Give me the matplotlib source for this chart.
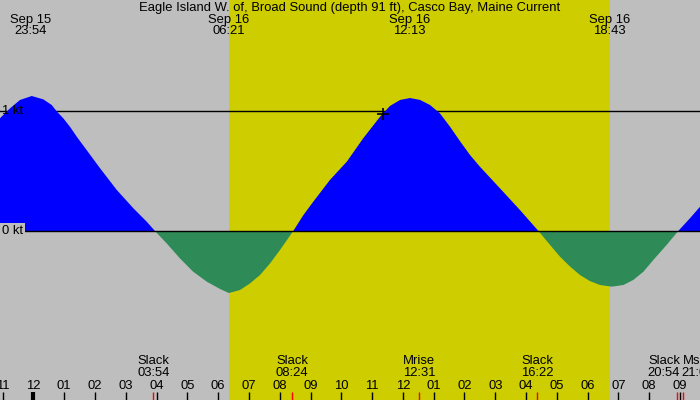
import matplotlib
matplotlib.use("Agg")
import matplotlib.pyplot as plt
import numpy as np

plt.rcParams["font.family"] = ["Liberation Sans", "DejaVu Sans"]

TITLE = "Eagle Island W. of, Broad Sound (depth 91 ft), Casco Bay, Maine Current"

# hours from midnight Sep 16 (negative = Sep 15), current speed in knots
hours = [-1.081, -0.756, -0.432, -0.05, 0.325, 0.597, 0.76, 0.974, 1.19, 1.41, 1.73,
         2.17, 2.71, 3.25, 3.68, 3.95, 4.33, 4.76, 5.19, 5.63, 6.06, 6.35, 6.71, 7.04,
         7.36, 7.69, 8.01, 8.44, 8.77, 9.09, 9.63, 10.18, 10.71, 11.26, 11.58, 11.91,
         12.23, 12.56, 12.88, 13.20, 13.53, 13.85, 14.18, 14.50, 15.15, 15.80, 16.40,
         16.78, 17.10, 17.43, 17.75, 18.07, 18.40, 18.78, 19.16, 19.48, 19.81, 20.13,
         20.56, 20.94, 21.32, 21.65]
speed = [0.940, 1.022, 1.092, 1.125, 1.097, 1.05, 0.997, 0.939, 0.869, 0.786, 0.675,
         0.522, 0.342, 0.189, 0.078, 0.0, -0.103, -0.228, -0.339, -0.422, -0.483, -0.517,
         -0.492, -0.436, -0.367, -0.269, -0.158, 0.0, 0.133, 0.244, 0.425, 0.578, 0.772,
         0.953, 1.042, 1.092, 1.108, 1.092, 1.05, 0.981, 0.869, 0.75, 0.633, 0.536, 0.356,
         0.175, 0.0, -0.117, -0.214, -0.297, -0.367, -0.417, -0.45, -0.464, -0.45, -0.408,
         -0.339, -0.242, -0.117, 0.0, 0.106, 0.203]

# top labels: max/min current times
top_hours = [-0.1, 6.35, 12.217, 18.717]
top_dates = ["Sep 15", "Sep 16", "Sep 16", "Sep 16"]
top_times = ["23:54", "06:21", "12:13", "18:43"]

# bottom events
event_hours = [3.9, 8.4, 12.517, 16.367, 20.9, 21.1]
event_names = ["Slack", "Slack", "Mrise", "Slack", "Slack", "Mset"]
event_times = ["03:54", "08:24", "12:31", "16:22", "20:54", "21:06"]

sunrise, sunset = 6.35, 18.717
marker_h, marker_kt = 11.36, 0.975

GRAY = "#bebebe"
YELLOW = "#cdcd00"
BLUE = "#0000ff"
GREEN = "#2e8b57"
FS = 9.4

X0, PXH = 33.3, 30.8    # pixel of midnight, pixels per hour
Y0, PXK = 231, 120      # pixel of 0 kt, pixels per knot


def ky(ypix):
    # pixel row (from top) -> knots
    return (Y0 - ypix) / PXK


def hx(xpix):
    # pixel column -> hours
    return (xpix - X0) / PXH


fig = plt.figure(figsize=(7, 4), dpi=100)
ax = fig.add_axes([0, 0, 1, 1])
ax.set_xlim(hx(0), hx(700))
ax.set_ylim(ky(400), ky(0))
ax.axis("off")
ax.add_patch(plt.Rectangle((0, 0), 1, 1, transform=ax.transAxes, color=GRAY, zorder=0))
ax.axvspan(sunrise, sunset, color=YELLOW, zorder=1, lw=0)

h = np.array(hours)
s = np.array(speed)
ax.axhline(1, color="black", lw=1, zorder=2)
ax.fill_between(h, s, 0, where=s >= 0, interpolate=True, color=BLUE, lw=0, zorder=3)
ax.fill_between(h, s, 0, where=s <= 0, interpolate=True, color=GREEN, lw=0, zorder=3)
ax.axhline(0, color="black", lw=1, zorder=4)
ax.plot([marker_h], [marker_kt], "+", color="black", ms=8, mew=1.2, zorder=5)

ax.text(hx(2), 1, "1 kt", fontsize=FS, va="center", ha="left", zorder=6)
ax.text(hx(2), 0, "0 kt", fontsize=FS, va="center", ha="left", zorder=6,
        bbox=dict(facecolor=GRAY, edgecolor="none", pad=1.5))

ax.text(hx(350), ky(7.5), TITLE, fontsize=FS, ha="center", va="center", zorder=6)
for th, d, t in zip(top_hours, top_dates, top_times):
    ax.text(th, ky(19.5), d, fontsize=FS, ha="center", va="center", zorder=6)
    ax.text(th, ky(31.5), t, fontsize=FS, ha="center", va="center", zorder=6)

# hour ticks along the bottom
for hr in range(-1, 22):
    lab = "%02d" % ((hr % 12) or 12)
    ax.text(hr, ky(386), lab, fontsize=FS, ha="center", va="center", zorder=6)
    ax.plot([hr, hr], [ky(392), ky(400)], color="black", lw=3 if hr == 0 else 1,
            solid_capstyle="butt", zorder=6)

for eh, name, t in zip(event_hours, event_names, event_times):
    ax.plot([eh, eh], [ky(392), ky(400)], color="red", lw=1, solid_capstyle="butt", zorder=7)
    if name == "Mset":
        ax.text(eh, ky(361.5), name, fontsize=FS, ha="left", va="center", zorder=6)
        ax.text(eh - 2 / PXH, ky(373.5), t, fontsize=FS, ha="left", va="center", zorder=6)
    elif eh > 20:
        # shifted left so it does not run into the Mset label
        ax.text(eh - 13 / PXH, ky(361.5), name, fontsize=FS, ha="center", va="center", zorder=6)
        ax.text(eh - 13 / PXH, ky(373.5), t, fontsize=FS, ha="center", va="center", zorder=6)
    else:
        ax.text(eh, ky(361.5), name, fontsize=FS, ha="center", va="center", zorder=6)
        ax.text(eh, ky(373.5), t, fontsize=FS, ha="center", va="center", zorder=6)

fig.savefig("out.png", dpi=100)
